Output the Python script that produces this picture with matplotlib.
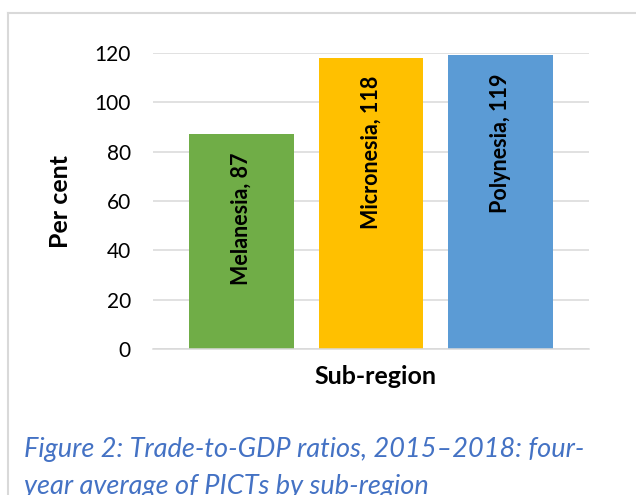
"""Trade-to-GDP ratios by sub-region, four-year average (2015-2018)."""

import matplotlib

matplotlib.use("Agg")
import matplotlib.pyplot as plt
from matplotlib.lines import Line2D

regions = ["Melanesia", "Micronesia", "Polynesia"]
trade_to_gdp = [87, 118, 119]
bar_colors = ["#70AD47", "#FFC000", "#5B9BD5"]
y_ticks = [0, 20, 40, 60, 80, 100, 120]

caption_line1 = "Figure 2: Trade-to-GDP ratios, 2015\u20132018: four-"
caption_line2 = "year average of PICTs by sub-region"

plt.rcParams["font.family"] = ["Lato", "DejaVu Sans"]

W, H = 636, 495
fig = plt.figure(figsize=(W / 100, H / 100), dpi=100)
ax = fig.add_axes([153 / W, 1 - 349 / H, 436 / W, 296 / H])

positions = list(range(len(regions)))
bars = ax.bar(positions, trade_to_gdp, width=0.81, color=bar_colors, zorder=2)

for bar, region, value in zip(bars, regions, trade_to_gdp):
    ax.annotate(
        f"{region}, {value}",
        xy=(bar.get_x() + bar.get_width() / 2, value),
        xytext=(0, -18),
        textcoords="offset pixels",
        rotation=90,
        ha="center",
        va="top",
        fontsize=15.5,
        fontweight="bold",
        color="black",
    )

ax.set_xlim(-0.683, 2.683)
ax.set_ylim(0, 120)
ax.set_yticks(y_ticks)
ax.set_xticks([])
ax.tick_params(axis="y", length=0, pad=16, labelsize=15)
ax.grid(axis="y", color="#D9D9D9", linewidth=1.1, zorder=0)
ax.set_axisbelow(True)
for side in ["top", "right", "left"]:
    ax.spines[side].set_visible(False)
ax.spines["bottom"].set_color("#D9D9D9")
ax.spines["bottom"].set_linewidth(1.1)

fig.text(60 / W, 1 - 201 / H, "Per cent", rotation=90, ha="center",
         va="center", fontsize=18, fontweight="bold")
fig.text(375 / W, 1 - 377 / H, "Sub-region", ha="center", va="center",
         fontsize=18, fontweight="bold")

fig.text(24 / W, 1 - 457 / H, caption_line1, ha="left", va="baseline",
         fontsize=19.5, style="italic", color="#4472C4")
fig.text(24 / W, 1 - 494 / H, caption_line2, ha="left", va="baseline",
         fontsize=19.5, style="italic", color="#4472C4")

# light grey frame around the chart (right and bottom edges are cropped)
frame_y = 1 - 13 / H
frame_x = 8 / W
fig.add_artist(Line2D([frame_x, 1], [frame_y, frame_y], color="#D9D9D9",
                      linewidth=1.5, transform=fig.transFigure))
fig.add_artist(Line2D([frame_x, frame_x], [0, frame_y], color="#D9D9D9",
                      linewidth=1.5, transform=fig.transFigure))

fig.savefig("out.png", dpi=100)
